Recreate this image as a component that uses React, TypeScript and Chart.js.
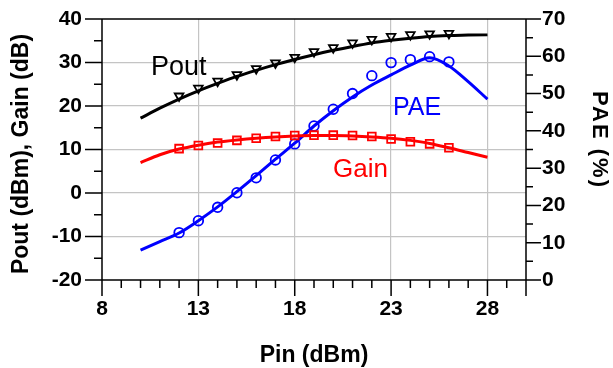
import React, { useEffect, useRef } from "react";
import { Chart, registerables } from "chart.js";

Chart.register(...registerables);

const pinLine = [10, 11, 12, 13, 14, 15, 16, 17, 18, 19, 20, 21, 22, 23, 24, 25, 26, 27, 28];
const poutLine = [17.2, 19.5, 21.6, 23.5, 25.2, 26.8, 28.2, 29.5, 30.7, 31.8, 32.8, 33.7, 34.5, 35.1, 35.6, 36.0, 36.2, 36.3, 36.4];
const gainLine = [7.0, 8.8, 10.1, 11.0, 11.7, 12.2, 12.6, 12.9, 13.1, 13.2, 13.2, 13.1, 12.9, 12.6, 12.1, 11.4, 10.4, 9.3, 8.2];
const paeLine = [8.0, 10.3, 12.6, 15.9, 19.6, 23.7, 28.0, 32.4, 36.7, 41.3, 45.4, 49.1, 52.3, 55.0, 57.6, 59.6, 57.4, 53.2, 48.5];

const pinMeas = [12, 13, 14, 15, 16, 17, 18, 19, 20, 21, 22, 23, 24, 25, 26];
const poutMeas = [22.3, 24.1, 25.7, 27.2, 28.6, 29.9, 31.2, 32.5, 33.4, 34.5, 35.3, 36.0, 36.4, 36.6, 36.7];
const gainMeas = [10.2, 10.9, 11.5, 12.1, 12.6, 13.0, 13.2, 13.3, 13.3, 13.2, 13.0, 12.4, 11.8, 11.3, 10.4];
const paeMeas = [12.7, 15.9, 19.5, 23.4, 27.4, 32.2, 36.5, 41.3, 45.8, 50.0, 54.8, 58.3, 59.1, 59.9, 58.5];

const xLabels = [8, 13, 18, 23, 28];
const xTitle = "Pin (dBm)";
const yTitle = "Pout (dBm), Gain (dB)";
const y2Title = "PAE (%)";

const pts = (xs: number[], ys: number[]) => xs.map((x, i) => ({ x, y: ys[i] }));

const FAMILY = "'Liberation Sans', Arial, sans-serif";
const tickFont = { family: FAMILY, size: 21, weight: "bold" };

const decor = {
  id: "decor",
  afterDraw(chart: any) {
    const { ctx, chartArea: a, scales } = chart;
    const x = scales.x, y = scales.y, y2 = scales.y2;
    ctx.save();
    ctx.strokeStyle = "#000";
    ctx.lineWidth = 1.5;
    ctx.beginPath();
    ctx.moveTo(a.left, a.top); ctx.lineTo(a.right, a.top);
    ctx.moveTo(a.left, a.top); ctx.lineTo(a.left, a.bottom);
    ctx.moveTo(a.right, a.top); ctx.lineTo(a.right, a.bottom);
    ctx.moveTo(a.left, a.bottom); ctx.lineTo(a.right, a.bottom);
    for (let v = -20; v <= 40; v += 5) {
      const p = y.getPixelForValue(v);
      const len = v % 10 === 0 ? 17 : 8;
      ctx.moveTo(a.left - len, p); ctx.lineTo(a.left, p);
    }
    for (let v = 0; v <= 70; v += 5) {
      const p = y2.getPixelForValue(v);
      const len = v % 10 === 0 ? 15 : 7;
      ctx.moveTo(a.right, p); ctx.lineTo(a.right + len, p);
    }
    for (let v = 8; v <= 30; v += 1) {
      const p = x.getPixelForValue(v);
      const len = (v - 8) % 5 === 0 || v === 30 ? 16 : 8;
      ctx.moveTo(p, a.bottom); ctx.lineTo(p, a.bottom + len);
    }
    ctx.stroke();

    ctx.fillStyle = "#000";
    ctx.textAlign = "center";
    ctx.textBaseline = "alphabetic";
    ctx.font = `bold 23px ${FAMILY}`;
    ctx.fillText(xTitle, 314, 362);
    ctx.save();
    ctx.translate(28, 154);
    ctx.rotate(-Math.PI / 2);
    ctx.fillText(yTitle, 0, 0);
    ctx.restore();
    ctx.save();
    ctx.font = `bold 22px ${FAMILY}`;
    (ctx as any).letterSpacing = "2px";
    ctx.translate(593, 140);
    ctx.rotate(Math.PI / 2);
    ctx.fillText(y2Title, 0, 0);
    ctx.restore();

    ctx.textAlign = "left";
    ctx.font = `27px ${FAMILY}`;
    ctx.fillStyle = "#000000";
    ctx.fillText("Pout", 151, 75);
    ctx.font = `25px ${FAMILY}`;
    ctx.fillStyle = "#0000ff";
    ctx.fillText("PAE", 393, 115);
    ctx.font = `26px ${FAMILY}`;
    ctx.fillStyle = "#ff0000";
    ctx.fillText("Gain", 333, 177);
    ctx.restore();
  },
};

const noPad = (s: any) => { s.paddingTop = 0; s.paddingBottom = 0; s.paddingLeft = 0; s.paddingRight = 0; };

export default function App() {
  const ref = useRef<HTMLCanvasElement | null>(null);
  useEffect(() => {
    if (!ref.current) return;
    const lineDs = (data: any, color: string, axis: string) => ({
      data, borderColor: color, borderWidth: 3, pointRadius: 0, tension: 0.4,
      cubicInterpolationMode: "monotone", fill: false, yAxisID: axis, order: 2,
    });
    const markDs = (data: any, color: string, axis: string, style: string, r: number, rot = 0) => ({
      data, borderColor: color, backgroundColor: "rgba(0,0,0,0)", showLine: false,
      pointStyle: style, pointRadius: r, pointBorderWidth: 1.8, pointRotation: rot,
      yAxisID: axis, order: 1,
    });
    const chart = new Chart(ref.current, {
      type: "line",
      data: {
        datasets: [
          lineDs(pts(pinLine, poutLine), "#000000", "y"),
          lineDs(pts(pinLine, gainLine), "#ff0000", "y"),
          lineDs(pts(pinLine, paeLine), "#0000ff", "y2"),
          markDs(pts(pinMeas, poutMeas), "#000000", "y", "triangle", 5, 180),
          markDs(pts(pinMeas, gainMeas), "#ff0000", "y", "rect", 5.5),
          markDs(pts(pinMeas, paeMeas), "#0000ff", "y2", "circle", 4.8),
        ] as any,
      },
      options: {
        animation: false,
        responsive: false,
        devicePixelRatio: 1,
        layout: { padding: { top: 19, left: 0, right: 0, bottom: 0 } },
        plugins: { legend: { display: false }, tooltip: { enabled: false } },
        scales: {
          x: {
            type: "linear", min: 8, max: 30,
            border: { display: false },
            grid: {
              drawTicks: false,
              color: (c: any) => (xLabels.includes(c.tick?.value) && c.tick.value !== 8 ? "#c4c4c4" : "rgba(0,0,0,0)"),
              lineWidth: 1.2,
            },
            ticks: {
              stepSize: 1, autoSkip: false, maxRotation: 0, padding: 17,
              color: "#000", font: tickFont,
              callback: (v: any) => (xLabels.includes(Number(v)) ? String(v) : ""),
            },
            afterFit: (s: any) => { s.height = 88; noPad(s); },
          },
          y: {
            type: "linear", position: "left", min: -20, max: 40,
            border: { display: false },
            grid: {
              drawTicks: false,
              color: (c: any) => {
                const v = c.tick?.value;
                return v % 10 === 0 && v > -20 && v < 40 ? "#c4c4c4" : "rgba(0,0,0,0)";
              },
              lineWidth: 1.2,
            },
            ticks: {
              stepSize: 5, autoSkip: false, padding: 20,
              color: "#000", font: tickFont,
              callback: (v: any) => (Number(v) % 10 === 0 ? String(v) : ""),
            },
            afterFit: (s: any) => { s.width = 102; noPad(s); },
          },
          y2: {
            type: "linear", position: "right", min: 0, max: 70,
            border: { display: false },
            grid: { display: false, drawTicks: false },
            ticks: {
              stepSize: 5, autoSkip: false, padding: 16,
              color: "#000", font: tickFont,
              callback: (v: any) => (Number(v) % 10 === 0 ? String(v) : ""),
            },
            afterFit: (s: any) => { s.width = 87; noPad(s); },
          },
        },
      } as any,
      plugins: [decor],
    });
    return () => chart.destroy();
  }, []);
  return (
    <div style={{ position: "fixed", left: 0, top: 0, width: 613, height: 368, background: "#fff" }}>
      <canvas ref={ref} width={613} height={368} style={{ width: 613, height: 368 }} />
    </div>
  );
}
